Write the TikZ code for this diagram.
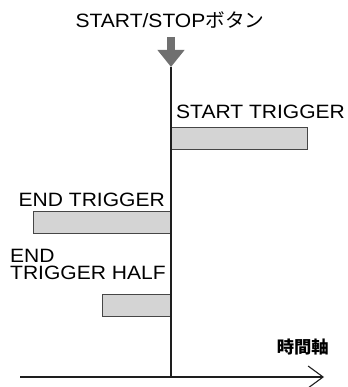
\documentclass[tikz,border=0pt]{standalone}
\usepackage{fontspec}
\setmainfont{Liberation Sans}[FakeStretch=1.09]
\newfontfamily\jp{Noto Sans CJK JP}[FakeStretch=1.02]
\usetikzlibrary{arrows.meta, positioning}
\definecolor{barfill}{RGB}{212, 212, 212}
\definecolor{barline}{RGB}{70, 70, 70}
\definecolor{btngray}{RGB}{112, 112, 112}
\definecolor{axisline}{RGB}{30, 30, 30}
\tikzstyle{bar}      = [rectangle, minimum height=22pt, inner sep=0pt,
                        draw=barline, line width=0.9pt, fill=barfill]
\tikzstyle{lbl}      = [inner sep=0pt, font=\fontsize{19.3}{17.6}\selectfont]
\tikzstyle{btnarrow} = [-{Triangle[width=26pt, length=17pt]}, line width=8.5pt, draw=btngray]
\tikzstyle{axis}     = [-{Straight Barb[length=15pt, width=22pt]}, line width=1.1pt, draw=axisline]

\begin{document}
\begin{tikzpicture}[x=1pt, y=1pt]
  \useasboundingbox (0,0) rectangle (347,387);

  % Button and time line
  \node (title) [lbl, anchor=base] at (170,359.3) {START/STOP{\jp ボタン}};
  \coordinate (press) at (171,320);
  \coordinate (axisL) at (20,10);
  \coordinate (axisR) at (324,10);
  \coordinate (origin) at (171,10);

  % Bars
  \node (startbar) [bar, minimum width=136pt, anchor=south west] at (171,237) {};
  \node (endbar)   [bar, minimum width=136.7pt, anchor=south east] at (171,153) {};
  \node (halfbar)  [bar, minimum width=68.3pt, anchor=south east] at (171,70.3) {};

  % Labels
  \node (startlbl) [lbl, above=9pt of startbar.north west, anchor=base west, xshift=5pt]
                   {START TRIGGER};
  \node (endlbl)   [lbl, above=5pt of endbar.north east, anchor=base east, xshift=-6pt]
                   {END TRIGGER};
  \node (halflbl)  [lbl, align=left, anchor=south west] at (10,107)
                   {END\\TRIGGER HALF};
  \node (timelbl)  [inner sep=0pt, anchor=south east, font=\fontsize{17}{17}\selectfont\jp\bfseries]
                   at (329,32) {時間軸};

  \draw [btnarrow] (171,350) -- (press);
  \draw [line width=1.1pt, draw=axisline] (press) -- (origin);
  \draw [axis] (axisL) -- (axisR);
\end{tikzpicture}
\end{document}
